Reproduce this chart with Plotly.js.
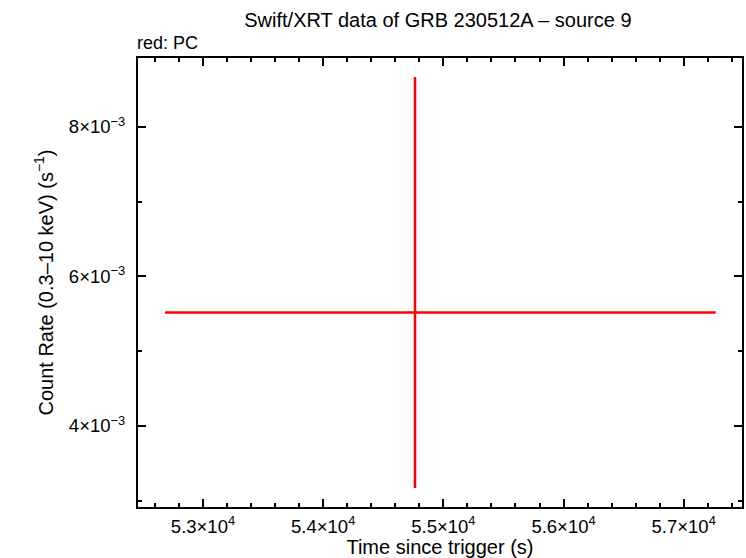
<!DOCTYPE html>
<html>
<head>
<meta charset="utf-8">
<script src="https://cdn.plot.ly/plotly-3.0.1.min.js"></script>
<style>html,body{margin:0;padding:0;background:#fff;}#chart{width:746px;height:558px;}</style>
</head>
<body>
<div id="chart"></div>
<script>
const timeVals = [54764];
const timeErrMinus = [2080];
const timeErrPlus = [2502];
const rateVals = [0.005518];
const rateErrMinus = [0.002347];
const rateErrPlus = [0.003151];
const xTickVals = [53000, 54000, 55000, 56000, 57000];
const xTickText = ['5.3×10<sup>4</sup>', '5.4×10<sup>4</sup>', '5.5×10<sup>4</sup>', '5.6×10<sup>4</sup>', '5.7×10<sup>4</sup>'];
const yTickVals = [0.004, 0.006, 0.008];
const yTickText = ['4×10<sup>−3</sup>', '6×10<sup>−3</sup>', '8×10<sup>−3</sup>'];

const fam = 'Liberation Sans, Arial, sans-serif';

const trace = {
  x: timeVals, y: rateVals, type: 'scatter', mode: 'markers',
  marker: {color: 'rgba(0,0,0,0)', size: 1},
  error_x: {type: 'data', symmetric: false, array: timeErrPlus, arrayminus: timeErrMinus, color: '#ff0000', thickness: 2.5, width: 0},
  error_y: {type: 'data', symmetric: false, array: rateErrPlus, arrayminus: rateErrMinus, color: '#ff0000', thickness: 2.5, width: 0},
  hoverinfo: 'skip', showlegend: false
};

const layout = {
  width: 746, height: 558,
  margin: {l: 138, r: 4, t: 58, b: 51},
  paper_bgcolor: '#fff', plot_bgcolor: '#fff',
  font: {family: fam, size: 15, color: '#000'},
  title: {text: 'Swift/XRT data of GRB 230512A – source 9', x: 0.587, xanchor: 'center', y: 0.965, yanchor: 'middle', font: {family: fam, size: 20, color: '#000'}},
  annotations: [{text: 'red: PC', xref: 'paper', yref: 'paper', x: 0, y: 1, xanchor: 'left', yanchor: 'bottom', xshift: -3, yshift: 3, showarrow: false, font: {family: fam, size: 18, color: '#000'}}],
  xaxis: {
    range: [52459, 57485], showgrid: false, zeroline: false,
    showline: true, linecolor: '#000', linewidth: 2, mirror: 'allticks',
    ticks: 'inside', ticklen: 8, tickwidth: 2, tickcolor: '#000',
    tickmode: 'array', tickvals: xTickVals, ticktext: xTickText,
    tickfont: {family: fam, size: 18.5, color: '#000'},
    ticklabelstandoff: 2,
    minor: {dtick: 200, tick0: 0, ticks: 'inside', ticklen: 4, tickwidth: 2, tickcolor: '#000', showgrid: false},
    title: {text: 'Time since trigger (s)', standoff: 5, font: {family: fam, size: 20, color: '#000'}}
  },
  yaxis: {
    range: [0.002916, 0.008923], showgrid: false, zeroline: false,
    showline: true, linecolor: '#000', linewidth: 2, mirror: 'allticks',
    ticks: 'inside', ticklen: 8, tickwidth: 2, tickcolor: '#000',
    tickmode: 'array', tickvals: yTickVals, ticktext: yTickText,
    tickfont: {family: fam, size: 18.5, color: '#000'},
    ticklabelstandoff: 7,
    minor: {dtick: 0.001, tick0: 0, ticks: 'inside', ticklen: 4, tickwidth: 2, tickcolor: '#000', showgrid: false},
    title: {text: 'Count Rate (0.3–10 keV) (s<sup>−1</sup>)', standoff: 10, font: {family: fam, size: 20, color: '#000'}}
  }
};

Plotly.newPlot('chart', [trace], layout, {staticPlot: true, displayModeBar: false});
</script>
</body>
</html>
